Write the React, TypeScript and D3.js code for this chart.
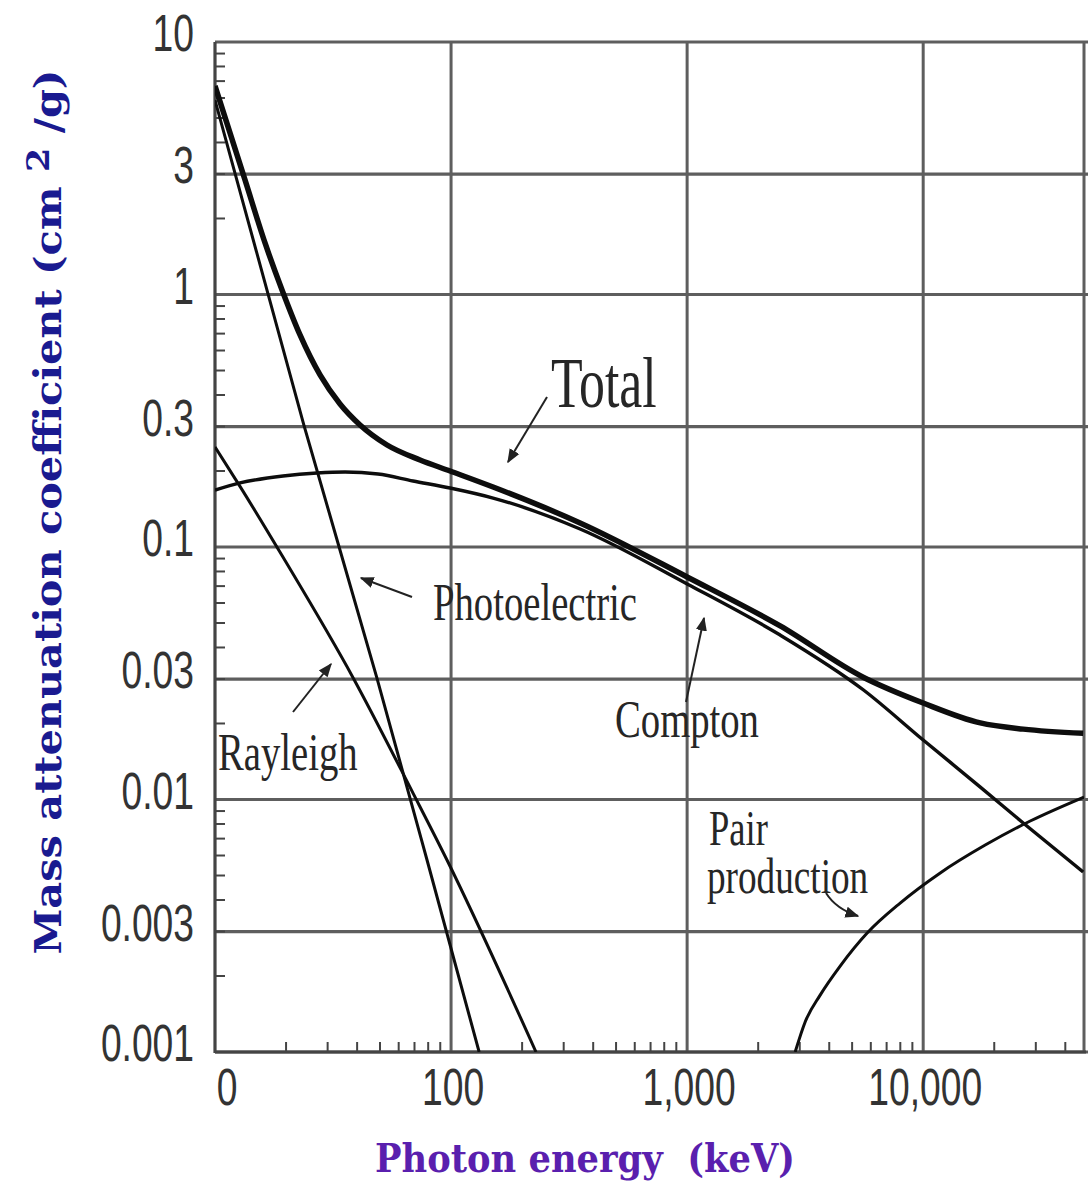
import React from "react";
import * as d3 from "d3";

// ---- data ----
const totalE = [10, 13.4, 16.29, 19.23, 22.92, 27.86, 33.86, 41.16, 53.56, 73.9, 99, 150.7, 352, 1000, 2478, 5570, 10000, 17460, 26530, 47600];
const totalV = [6.7, 2.842, 1.6, 1.042, 0.6913, 0.48, 0.3684, 0.3042, 0.2535, 0.2211, 0.2, 0.1728, 0.1245, 0.0761, 0.0487, 0.0305, 0.0241, 0.0201, 0.019, 0.0183];

const comptonE = [10, 12.76, 19.42, 27.05, 35.55, 49.06, 69.02, 99, 150.7, 352, 1000, 2478, 5570, 10000, 17460, 26530, 47600];
const comptonV = [0.1681, 0.1793, 0.1911, 0.1964, 0.1982, 0.1946, 0.1826, 0.1713, 0.1563, 0.1179, 0.0714, 0.0448, 0.0272, 0.0172, 0.0112, 0.00807, 0.00516];

const photoE = [10, 23.8, 48.5, 79.1, 131.5];
const photoV = [5.89, 0.304, 0.0303, 0.00576, 0.001];

const rayleighE = [10, 12.8, 19.4, 38.5, 69.0, 96.1, 229];
const rayleighV = [0.249, 0.173, 0.0912, 0.0303, 0.0106, 0.00576, 0.001];

const pairE = [2869, 3162, 3660, 4449, 5790, 7988, 11810, 18310, 28410, 48000];
const pairV = [0.001, 0.001315, 0.00168, 0.00219, 0.00296, 0.00389, 0.00512, 0.0066, 0.00822, 0.01023];

const yTickValues = [10, 3, 1, 0.3, 0.1, 0.03, 0.01, 0.003, 0.001];
const yTickLabels = ["10", "3", "1", "0.3", "0.1", "0.03", "0.01", "0.003", "0.001"];
const xTickValues = [10, 100, 1000, 10000];
const xTickLabels = ["0", "100", "1,000", "10,000"];

const X_MIN = 10;
const X_MAX = 48000;
const Y_MIN = 0.001;
const Y_MAX = 10;

const W = 1088;
const H = 1185;
const L = 215;
const R = 1084;
const T = 42;
const B = 1052;

const xScale = d3.scaleLog().domain([X_MIN, X_MAX]).range([L, R]);
const yScale = d3.scaleLog().domain([Y_MIN, Y_MAX]).range([B, T]);

const zip = (a: number[], b: number[]) => a.map((v, i) => [v, b[i]] as [number, number]);
const line = d3
  .line<[number, number]>()
  .x((d) => xScale(d[0]))
  .y((d) => yScale(d[1]))
  .curve(d3.curveMonotoneX);

const minorY: number[] = [];
for (let e = -3; e <= 0; e++) for (let m = 2; m <= 9; m++) minorY.push(m * Math.pow(10, e));
const minorX: number[] = [];
for (let e = 1; e <= 4; e++)
  for (let m = 2; m <= 9; m++) {
    const v = m * Math.pow(10, e);
    if (v < X_MAX) minorX.push(v);
  }

const SX = 0.73; // horizontal compression of the lettering
const gridColor = "#5e5e5e";
const textColor = "#262626";

function Label({ x, y, size, children, anchor = "start" }: any) {
  return (
    <text
      transform={`translate(${x},${y}) scale(${SX},1)`}
      fontFamily="'Liberation Serif', 'Times New Roman', serif"
      fontSize={size}
      fill={textColor}
      textAnchor={anchor}
    >
      {children}
    </text>
  );
}

export default function App() {
  const series = [
    { data: zip(photoE, photoV), w: 3 },
    { data: zip(rayleighE, rayleighV), w: 3 },
    { data: zip(pairE, pairV), w: 3 },
    { data: zip(comptonE, comptonV), w: 3.4 },
    { data: zip(totalE, totalV), w: 5.5 },
  ];

  const arrows = [
    { x1: 547, y1: 397, x2: 508, y2: 462 },
    { x1: 412, y1: 597, x2: 361, y2: 578 },
    { x1: 686, y1: 702, x2: 704, y2: 618 },
    { x1: 293, y1: 712, x2: 331, y2: 664 },
  ];

  return (
    <svg
      width={W}
      height={H}
      style={{ position: "absolute", left: 0, top: 0, background: "#fff" }}
    >
      <defs>
        <clipPath id="plot">
          <rect x={L} y={T - 2} width={R - L} height={B - T + 2} />
        </clipPath>
        <marker id="ah" viewBox="0 0 10 10" refX="9" refY="5" markerWidth="7" markerHeight="7" orient="auto">
          <path d="M0,1 L10,5 L0,9 z" fill="#222" />
        </marker>
      </defs>
      <rect width={W} height={H} fill="#fff" />

      {/* horizontal grid lines */}
      {yTickValues.map((v) => (
        <line key={"gy" + v} x1={L} x2={W} y1={yScale(v)} y2={yScale(v)} stroke={gridColor} strokeWidth={3.2} />
      ))}
      {/* vertical grid lines */}
      {xTickValues.slice(1).map((v) => (
        <line key={"gx" + v} x1={xScale(v)} x2={xScale(v)} y1={T} y2={B} stroke={gridColor} strokeWidth={3} />
      ))}
      <line x1={R} x2={R} y1={T} y2={B} stroke={gridColor} strokeWidth={3} />

      {/* minor ticks */}
      {minorY.map((v) => (
        <line key={"my" + v} x1={L} x2={L + 10} y1={yScale(v)} y2={yScale(v)} stroke="#444" strokeWidth={2} />
      ))}
      {minorX.map((v) => (
        <line key={"mx" + v} x1={xScale(v)} x2={xScale(v)} y1={B} y2={B - 10} stroke="#444" strokeWidth={2} />
      ))}

      {/* axes */}
      <line x1={L} x2={L} y1={T} y2={B + 1} stroke="#444" strokeWidth={3.2} />
      <line x1={L} x2={R + 2} y1={B} y2={B} stroke="#444" strokeWidth={3.2} />

      {/* curves */}
      <g clipPath="url(#plot)">
        {series.map((s, i) => (
          <path key={i} d={line(s.data) || ""} fill="none" stroke="#0d0d0d" strokeWidth={s.w} strokeLinejoin="round" />
        ))}
      </g>

      {/* y tick labels */}
      {yTickValues.map((v, i) => (
        <text
          key={"yl" + v}
          transform={`translate(194,${yScale(v) + 9}) scale(${SX},1)`}
          textAnchor="end"
          fontFamily="'Liberation Sans', Arial, sans-serif"
          fontSize={51}
          fill="#333"
        >
          {yTickLabels[i]}
        </text>
      ))}
      {/* x tick labels */}
      {xTickValues.map((v, i) => (
        <text
          key={"xl" + v}
          transform={`translate(${xScale(v) + (i === 0 ? 12 : 2)},1105) scale(${SX},1)`}
          textAnchor="middle"
          fontFamily="'Liberation Sans', Arial, sans-serif"
          fontSize={51}
          fill="#333"
        >
          {xTickLabels[i]}
        </text>
      ))}

      {/* annotations */}
      <Label x={551} y={407} size={71}>Total</Label>
      <Label x={433} y={620} size={53}>Photoelectric</Label>
      <Label x={615} y={737} size={53}>Compton</Label>
      <Label x={218} y={770} size={53}>Rayleigh</Label>
      <Label x={709} y={845} size={50}>Pair</Label>
      <Label x={707} y={893} size={51}>production</Label>
      {arrows.map((a, i) => (
        <line key={"ar" + i} x1={a.x1} y1={a.y1} x2={a.x2} y2={a.y2} stroke="#222" strokeWidth={2} markerEnd="url(#ah)" />
      ))}
      <path d="M826,893 Q836,909 858,916" fill="none" stroke="#222" strokeWidth={2} markerEnd="url(#ah)" />

      {/* axis titles */}
      <text
        transform="translate(61,512) rotate(-90)"
        textAnchor="middle"
        fontFamily="'DejaVu Serif', serif"
        fontWeight="bold"
        fontSize={38}
        fill="#1a1a90"
        textLength={885}
        lengthAdjust="spacingAndGlyphs"
      >
        Mass attenuation coefficient (cm <tspan dy={-12} fontSize={32}>2</tspan><tspan dy={12}> /g)</tspan>
      </text>
      <text
        x={585}
        y={1172}
        textAnchor="middle"
        fontFamily="'DejaVu Serif', serif"
        fontWeight="bold"
        fontSize={40}
        fill="#5a1fae"
        textLength={420}
        lengthAdjust="spacingAndGlyphs"
        style={{ whiteSpace: "pre" }}
      >
        {"Photon energy  (keV)"}
      </text>
    </svg>
  );
}
